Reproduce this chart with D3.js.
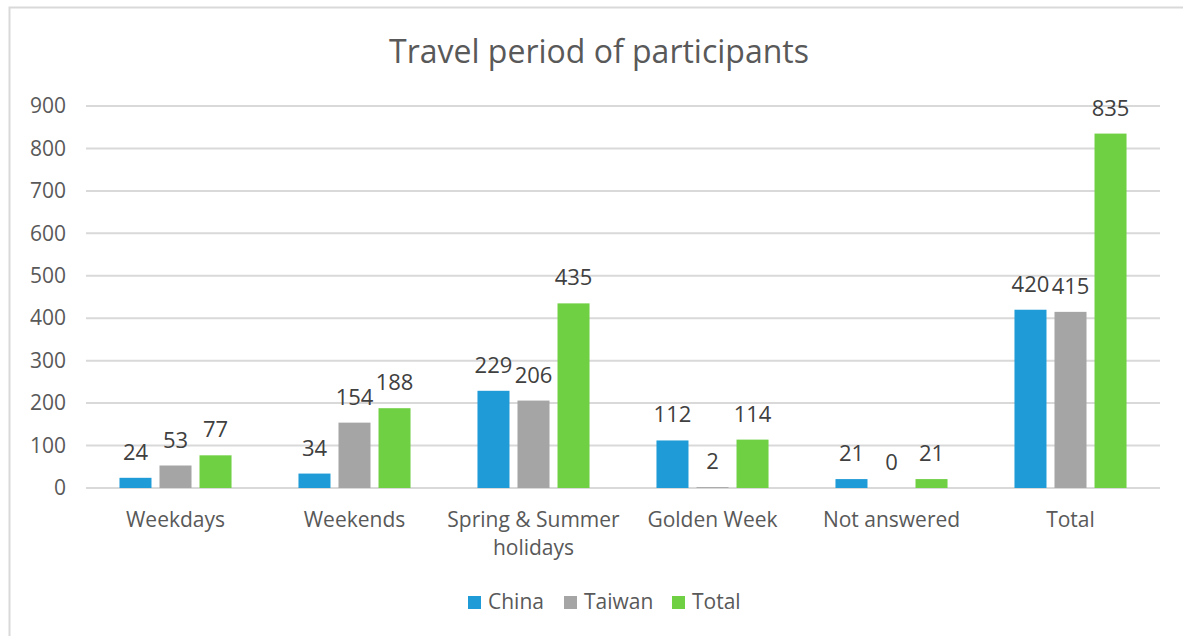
<!DOCTYPE html>
<html lang="en">
<head>
    <meta charset="UTF-8" />
    <title>Travel period of participants</title>
    <script src="https://d3js.org/d3.v7.js"></script>
    <style>
        body { margin: 0; background: #fff; }
        text { font-family: "Open Sans", "Noto Sans", sans-serif; fill: #595959; }
    </style>
</head>
<body>
    <script>
        var w = 1183;
        var h = 636;

        var categories = ["Weekdays", "Weekends", "Spring & Summer holidays", "Golden Week", "Not answered", "Total"];
        var seriesNames = ["China", "Taiwan", "Total"];
        var china = [24, 34, 229, 112, 21, 420];
        var taiwan = [53, 154, 206, 2, 0, 415];
        var total = [77, 188, 435, 114, 21, 835];
        var yTicks = [0, 100, 200, 300, 400, 500, 600, 700, 800, 900];
        var colors = ["#1f9bd7", "#a5a5a5", "#70d044"];

        var seriesValues = [china, taiwan, total];

        var svg = d3.select("body")
            .append("svg")
            .attr("width", w)
            .attr("height", h);

        // outer frame (runs off the bottom/right of the picture)
        svg.append("rect")
            .attr("x", 9.5)
            .attr("y", 7.5)
            .attr("width", w)
            .attr("height", h)
            .attr("fill", "none")
            .attr("stroke", "#d9d9d9")
            .attr("stroke-width", 2);

        svg.append("text")
            .attr("x", 599)
            .attr("y", 63)
            .attr("text-anchor", "middle")
            .style("font-size", "32px")
            .text("Travel period of participants");

        var x0 = d3.scaleBand()
            .domain(categories)
            .range([86, 1160])
            .paddingInner(0.374)
            .paddingOuter(0.187);

        var x1 = d3.scaleBand()
            .domain(seriesNames)
            .range([0, x0.bandwidth()])
            .paddingInner(0.2);

        var yScale = d3.scaleLinear()
            .domain([0, 900])
            .range([488, 106]);

        // gridlines
        svg.selectAll(".grid")
            .data(yTicks)
            .enter()
            .append("line")
            .attr("x1", 86)
            .attr("x2", 1160)
            .attr("y1", function(d){ return yScale(d); })
            .attr("y2", function(d){ return yScale(d); })
            .attr("stroke", "#d9d9d9")
            .attr("stroke-width", 2);

        var yAxis = d3.axisLeft(yScale).tickValues(yTicks).tickSize(0).tickPadding(0);
        var gy = svg.append("g")
            .attr("transform", "translate(66,0)")
            .call(yAxis);
        gy.select(".domain").remove();
        gy.selectAll("text")
            .style("font-size", "21px")
            .style("font-family", "\"Open Sans\", sans-serif")
            .attr("fill", "#595959");

        var rows = [];
        categories.forEach(function(c, i){
            seriesNames.forEach(function(s, j){
                rows.push({cat: c, series: s, value: seriesValues[j][i], color: colors[j]});
            });
        });

        var groups = svg.append("g");
        groups.selectAll("rect")
            .data(rows)
            .enter()
            .append("rect")
            .attr("x", function(d){ return x0(d.cat) + x1(d.series); })
            .attr("y", function(d){ return yScale(d.value); })
            .attr("width", x1.bandwidth())
            .attr("height", function(d){ return yScale(0) - yScale(d.value); })
            .attr("fill", function(d){ return d.color; });

        groups.selectAll(".lbl")
            .data(rows)
            .enter()
            .append("text")
            .attr("x", function(d){ return x0(d.cat) + x1(d.series) + x1.bandwidth() / 2; })
            .attr("y", function(d){ return yScale(d.value) - 18; })
            .attr("text-anchor", "middle")
            .style("font-size", "22px")
            .style("fill", "#404040")
            .text(function(d){ return d.value; });

        // category labels, wrapped like the original
        var catLines = {
            "Spring & Summer holidays": ["Spring & Summer", "holidays"]
        };
        var xl = svg.selectAll(".cat")
            .data(categories)
            .enter()
            .append("text")
            .attr("text-anchor", "middle")
            .style("font-size", "21px")
            .attr("y", 527);
        xl.each(function(c){
            var lines = catLines[c] || [c];
            var t = d3.select(this);
            lines.forEach(function(l, k){
                t.append("tspan")
                    .attr("x", x0(c) + x0.bandwidth() / 2)
                    .attr("dy", k === 0 ? 0 : 28)
                    .text(l);
            });
        });

        // legend
        var legendX = [468, 564, 672];
        var legend = svg.selectAll(".leg")
            .data(seriesNames)
            .enter()
            .append("g")
            .attr("transform", function(d, i){ return "translate(" + legendX[i] + ",596)"; });
        legend.append("rect")
            .attr("width", 13)
            .attr("height", 13)
            .attr("fill", function(d, i){ return colors[i]; });
        legend.append("text")
            .attr("x", 20)
            .attr("y", 13)
            .style("font-size", "21px")
            .text(function(d){ return d; });
    </script>
</body>
</html>
